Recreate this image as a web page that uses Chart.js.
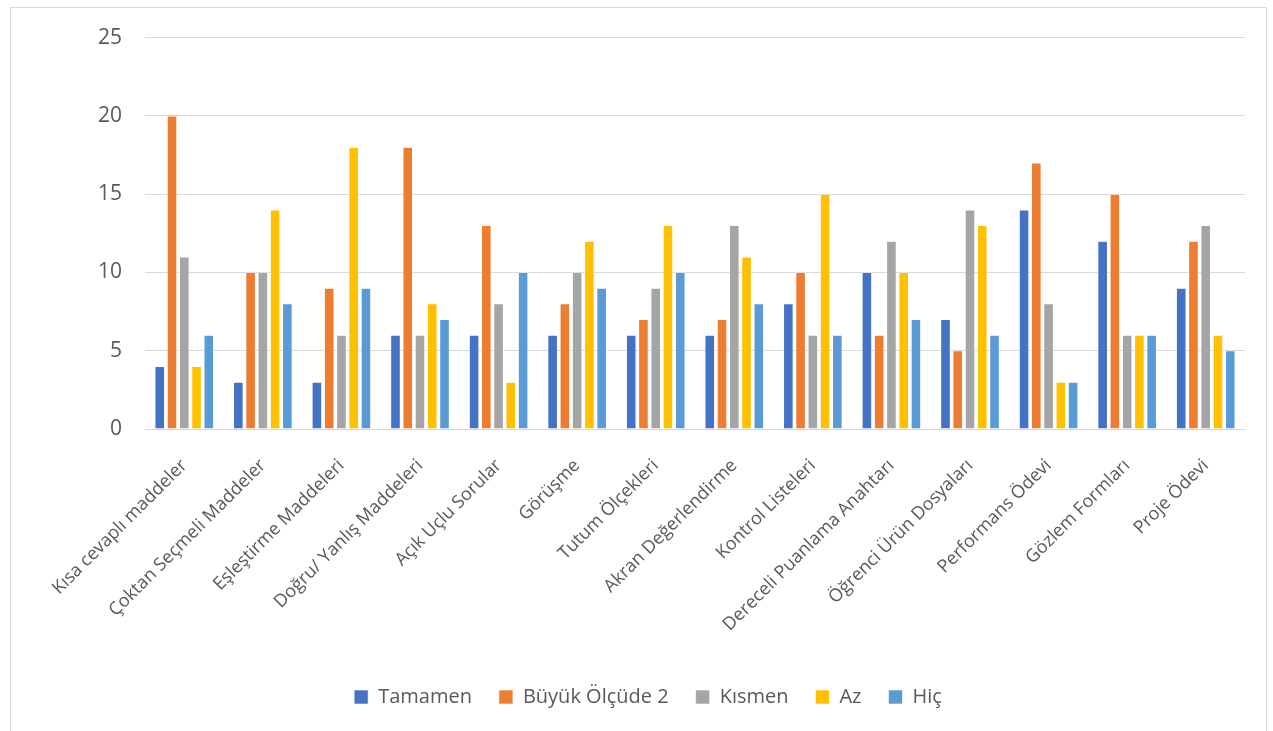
<!DOCTYPE html>
<html>
<head>
<meta charset="utf-8">
<script src="https://cdn.jsdelivr.net/npm/chart.js@4"></script>
<style>
  html, body { margin: 0; padding: 0; background: #fff; overflow: hidden; }
  #frame { position: absolute; left: 10px; top: 7px; width: 1257px; height: 730px;
    border: 1px solid #d9d9d9; box-sizing: border-box; }
  #wrap { position: absolute; left: 0; top: -6px; width: 1255px; height: 715px; }
</style>
</head>
<body>
<div id="frame"><div id="wrap"><canvas id="c"></canvas></div></div>
<script>
// categories (x axis)
const categories = [
  'Kısa cevaplı maddeler', 'Çoktan Seçmeli Maddeler', 'Eşleştirme Maddeleri',
  'Doğru/ Yanlış Maddeleri', 'Açık Uçlu Sorular', 'Görüşme', 'Tutum Ölçekleri',
  'Akran Değerlendirme', 'Kontrol Listeleri', 'Dereceli Puanlama Anahtarı',
  'Öğrenci Ürün Dosyaları', 'Performans Ödevi', 'Gözlem Formları', 'Proje Ödevi'
];

// series values
const tamamen   = [4, 3, 3, 6, 6, 6, 6, 6, 8, 10, 7, 14, 12, 9];
const buyuk     = [20, 10, 9, 18, 13, 8, 7, 7, 10, 6, 5, 17, 15, 12];
const kismen    = [11, 10, 6, 6, 8, 10, 9, 13, 6, 12, 14, 8, 6, 13];
const az        = [4, 14, 18, 8, 3, 12, 13, 11, 15, 10, 13, 3, 6, 6];
const hic       = [6, 8, 9, 7, 10, 9, 10, 8, 6, 7, 6, 3, 6, 5];

const seriesNames = ['Tamamen', 'Büyük Ölçüde 2', 'Kısmen', 'Az', 'Hiç'];
const yTicks = [0, 5, 10, 15, 20, 25];

const COLORS = ['#4472c4', '#ed7d31', '#a5a5a5', '#ffc000', '#5b9bd5'];
const FONT = '"Open Sans", sans-serif';

const datasets = [tamamen, buyuk, kismen, az, hic].map((d, i) => ({
  label: seriesNames[i],
  data: d,
  backgroundColor: COLORS[i],
  borderColor: '#ffffff',
  borderWidth: 0.6,
  categoryPercentage: 0.78,
  barPercentage: 0.8,
}));

new Chart(document.getElementById('c'), {
  type: 'bar',
  data: { labels: categories, datasets },
  options: {
    responsive: true,
    maintainAspectRatio: false,
    animation: false,
    // left padding only shifts the legend; y axis width is trimmed to match
    layout: { padding: { top: 11, right: 21, bottom: 0, left: 40 } },
    plugins: {
      legend: {
        position: 'bottom',
        labels: { color: '#595959', font: { family: FONT, size: 20 }, boxWidth: 14, boxHeight: 14, padding: 27 },
      },
      tooltip: { enabled: false },
    },
    scales: {
      x: {
        grid: { display: false, drawTicks: false },
        border: { color: '#d9d9d9', width: 1 },
        ticks: { color: '#595959', font: { family: FONT, size: 18 }, minRotation: 45, maxRotation: 45, padding: 26, autoSkip: false },
        afterFit: s => { s.height = 231; },
      },
      y: {
        min: 0, max: 25,
        afterBuildTicks: s => { s.ticks = yTicks.map(v => ({ value: v })); },
        grid: { color: '#d9d9d9', lineWidth: 1, drawTicks: false },
        border: { display: false },
        ticks: { color: '#595959', font: { family: FONT, size: 21 }, padding: 23 },
        afterFit: s => { s.width = 94; },
      },
    },
  },
});
</script>
</body>
</html>
